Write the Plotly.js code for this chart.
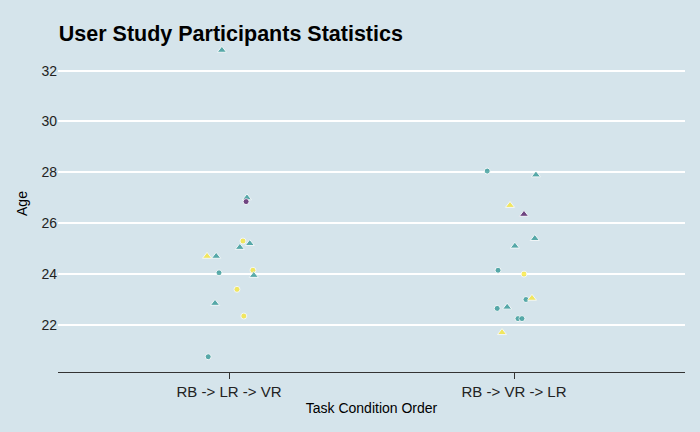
<!DOCTYPE html>
<html>
<head>
<script src="https://cdn.plot.ly/plotly-3.0.1.min.js"></script>
<style>body{margin:0;background:#d5e4eb}</style>
</head>
<body>
<div id="chart" style="width:700px;height:432px"></div>
<script>
// Jittered positions (category index + jitter)
const categories = ['RB -> LR -> VR', 'RB -> VR -> LR'];
const xPos = [0.975, 1.063, 1.06, 1.049, 1.038, 1.073, 0.923, 0.955, 0.965, 1.084, 1.087, 1.028, 0.951, 1.052, 0.927,
              1.906, 2.077, 1.986, 2.035, 2.073, 2.003, 1.944, 2.035, 2.042, 2.063, 1.941, 1.976, 2.014, 2.028, 1.958];
const ages = [32.8, 27.0, 26.85, 25.3, 25.05, 25.2, 24.7, 24.7, 24.05, 24.15, 23.95, 23.4, 22.85, 22.35, 20.75,
              28.05, 27.9, 26.7, 26.35, 25.4, 25.1, 24.15, 24.0, 23.0, 23.05, 22.65, 22.7, 22.25, 22.25, 21.7];
const groups = ['t', 't', 'p', 'y', 't', 't', 'y', 't', 't', 'y', 't', 'y', 't', 'y', 't',
                't', 't', 'y', 'p', 't', 't', 't', 'y', 't', 'y', 't', 't', 't', 't', 'y'];
const shapes = ['triangle-up', 'triangle-up', 'circle', 'circle', 'triangle-up', 'triangle-up', 'triangle-up', 'triangle-up', 'circle', 'circle', 'triangle-up', 'circle', 'triangle-up', 'circle', 'circle',
                'circle', 'triangle-up', 'triangle-up', 'triangle-up', 'triangle-up', 'triangle-up', 'circle', 'circle', 'circle', 'triangle-up', 'circle', 'triangle-up', 'circle', 'circle', 'triangle-up'];
const palette = { t: '#21908c', y: '#fde725', p: '#440154' };

const trace = {
    x: xPos,
    y: ages,
    mode: 'markers',
    type: 'scatter',
    marker: {
        color: groups.map(g => palette[g]),
        symbol: shapes,
        size: shapes.map(s => s === 'circle' ? 6 : 8)
    },
    hoverinfo: 'y'
};

const layout = {
    title: { text: '<b>User Study Participants Statistics</b>', x: 0.084, xanchor: 'left', y: 0.94,
             font: { family: 'Liberation Sans', size: 21.5, color: '#000' } },
    showlegend: false,
    paper_bgcolor: '#d5e4eb',
    plot_bgcolor: '#d5e4eb',
    margin: { t: 35, r: 15, b: 60, l: 58 },
    font: { family: 'Liberation Sans', size: 14, color: '#000' },
    xaxis: {
        range: [0.4, 2.6],
        tickvals: [1, 2],
        ticktext: categories,
        tickfont: { size: 15, color: '#222' },
        showgrid: false,
        zeroline: false,
        showline: true,
        linecolor: '#333',
        ticks: 'outside',
        ticklen: 6,
        tickcolor: '#333',
        title: { text: 'Task Condition Order', font: { size: 14 }, standoff: 4 }
    },
    yaxis: {
        range: [20.15, 33.4],
        tickvals: [22, 24, 26, 28, 30, 32],
        tickfont: { size: 14, color: '#222' },
        gridcolor: '#ffffff',
        gridwidth: 2,
        zeroline: false,
        title: { text: 'Age', font: { size: 14 }, standoff: 10 }
    }
};

Plotly.newPlot('chart', [trace], layout, { displayModeBar: false });
</script>
</body>
</html>
